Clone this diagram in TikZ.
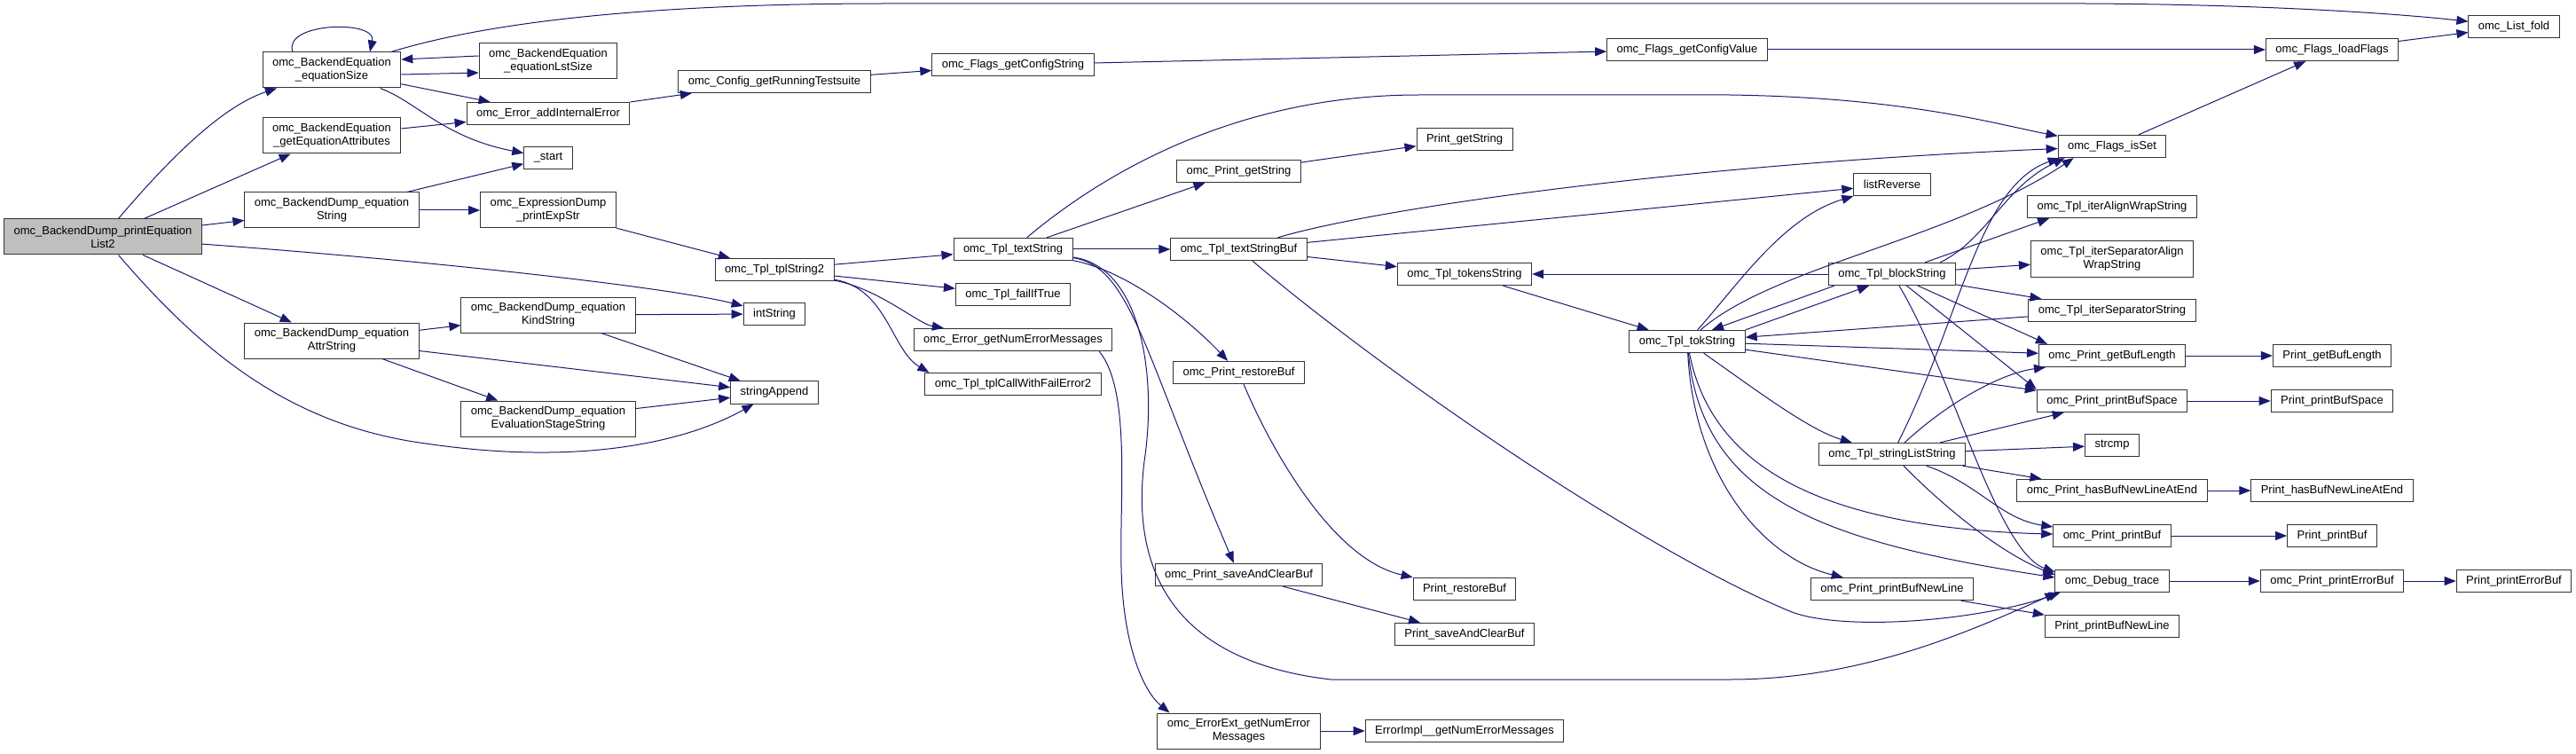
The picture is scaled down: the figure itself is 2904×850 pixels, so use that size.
\documentclass[tikz,border=0pt]{standalone}
\usepackage{fontspec}
\setmainfont{Liberation Sans}
\usepackage{tikz}
\usetikzlibrary{calc,arrows.meta}
\definecolor{cgedge}{HTML}{191970}
\definecolor{cgroot}{HTML}{BFBFBF}
\definecolor{cgline}{HTML}{333333}

\begin{document}
\begin{tikzpicture}[x=1pt, y=-1pt, >={Triangle[length=13pt,width=10pt]},
  font=\fontsize{13}{15}\selectfont,
  fn/.style={draw=cgline, line width=1pt, fill=white, inner xsep=11pt, inner ysep=0pt,
             minimum height=25.3pt, align=center},
  fn2/.style={fn, minimum height=40pt},
  call/.style={cgedge, line width=1pt, ->}]
  \useasboundingbox (0,0) rectangle (2904,850);

  % the documented function
  \node[fn2, fill=cgroot] (PEL) at (116,267) {omc\_BackendDump\_printEquation\\List2};

  % direct callees
  \node[fn2] (ES)  at (374,79)  {omc\_BackendEquation\\\_equationSize};
  \node[fn2] (GEA) at (374,153) {omc\_BackendEquation\\\_getEquationAttributes};
  \node[fn2] (EQS) at (374,237) {omc\_BackendDump\_equation\\String};
  \node[fn2] (EAS) at (374,384) {omc\_BackendDump\_equation\\AttrString};

  \node[fn2] (ELS) at (618,69)  {omc\_BackendEquation\\\_equationLstSize};
  \node[fn]  (AIE) at (618,128) {omc\_Error\_addInternalError};
  \node[fn]  (STA) at (618,178) {\_start};
  \node[fn2] (PES) at (618,237) {omc\_ExpressionDump\\\_printExpStr};
  \node[fn2] (EKS) at (618,355) {omc\_BackendDump\_equation\\KindString};
  \node[fn2] (EES) at (618,472) {omc\_BackendDump\_equation\\EvaluationStageString};

  \node[fn] (CRT) at (873,92)    {omc\_Config\_getRunningTestsuite};
  \node[fn] (TS2) at (873,304)   {omc\_Tpl\_tplString2};
  \node[fn] (INT) at (873,354)   {intString};
  \node[fn] (SAP) at (873,442.5) {stringAppend};

  \node[fn] (FGS) at (1142,73)  {omc\_Flags\_getConfigString};
  \node[fn] (TXS) at (1142,281) {omc\_Tpl\_textString};
  \node[fn] (FIT) at (1142,332) {omc\_Tpl\_failIfTrue};
  \node[fn] (GNE) at (1142,383) {omc\_Error\_getNumErrorMessages};
  \node[fn] (CWF) at (1142,433) {omc\_Tpl\_tplCallWithFailError2};

  \node[fn]  (OGS) at (1396.5,193) {omc\_Print\_getString};
  \node[fn]  (TSB) at (1396.5,281) {omc\_Tpl\_textStringBuf};
  \node[fn]  (ORB) at (1396.5,420) {omc\_Print\_restoreBuf};
  \node[fn]  (OSC) at (1396.5,648) {omc\_Print\_saveAndClearBuf};
  \node[fn2] (EXT) at (1396.5,824) {omc\_ErrorExt\_getNumError\\Messages};

  \node[fn] (PGS) at (1651,157) {Print\_getString};
  \node[fn] (TKS) at (1651,309) {omc\_Tpl\_tokensString};
  \node[fn] (PRB) at (1651,664) {Print\_restoreBuf};
  \node[fn] (PSC) at (1651,715) {Print\_saveAndClearBuf};
  \node[fn] (EIM) at (1651,824) {ErrorImpl\_\_getNumErrorMessages};

  \node[fn] (FCV) at (1902,56)  {omc\_Flags\_getConfigValue};
  \node[fn] (TOK) at (1902,385) {omc\_Tpl\_tokString};

  \node[fn] (LRV) at (2133,208) {listReverse};
  \node[fn] (BLK) at (2133,309) {omc\_Tpl\_blockString};
  \node[fn] (SLS) at (2133,512) {omc\_Tpl\_stringListString};
  \node[fn] (OPN) at (2133,664) {omc\_Print\_printBufNewLine};

  \node[fn]  (ISET) at (2381,165) {omc\_Flags\_isSet};
  \node[fn]  (IAW)  at (2381,233) {omc\_Tpl\_iterAlignWrapString};
  \node[fn2] (ISA)  at (2381,292) {omc\_Tpl\_iterSeparatorAlign\\WrapString};
  \node[fn]  (ISP)  at (2381,350) {omc\_Tpl\_iterSeparatorString};
  \node[fn]  (OGL)  at (2381,401) {omc\_Print\_getBufLength};
  \node[fn]  (OBS)  at (2381,452) {omc\_Print\_printBufSpace};
  \node[fn]  (SCM)  at (2381,502) {strcmp};
  \node[fn]  (OHB)  at (2381,553) {omc\_Print\_hasBufNewLineAtEnd};
  \node[fn]  (OPB)  at (2381,604) {omc\_Print\_printBuf};
  \node[fn]  (DBG)  at (2381,655) {omc\_Debug\_trace};
  \node[fn]  (PBN)  at (2381,706) {Print\_printBufNewLine};

  \node[fn] (LDF) at (2629,56)  {omc\_Flags\_loadFlags};
  \node[fn] (PGL) at (2629,401) {Print\_getBufLength};
  \node[fn] (PBS) at (2629,452) {Print\_printBufSpace};
  \node[fn] (PHB) at (2629,553) {Print\_hasBufNewLineAtEnd};
  \node[fn] (PPB) at (2629,604) {Print\_printBuf};
  \node[fn] (OEB) at (2629,655) {omc\_Print\_printErrorBuf};

  \node[fn] (LFD) at (2834,30)  {omc\_List\_fold};
  \node[fn] (PEB) at (2834,655) {Print\_printErrorBuf};

  % calls of the documented function
  \draw[call] (PEL) .. controls (190,180) and (250,120) .. (ES);
  \draw[call] (PEL) -- (GEA);
  \draw[call] (PEL) -- (EQS);
  \draw[call] (PEL) .. controls (500,295) and (760,325) .. (INT);
  \draw[call] (PEL) -- (EAS);
  \draw[call] (PEL) .. controls (230,400) and (330,480) .. (480,500)
                    .. controls (650,525) and (770,500) .. (SAP);

  % equationSize and its neighbours
  \draw[call] ($(ES.north)+(-44,0)$) .. controls (318,25) and (425,22) .. ($(ES.north)+(43,0)$);
  \draw[call] (ES) .. controls (560,22) and (750,4) .. (1000,4) -- (2350,4)
                   .. controls (2550,5) and (2700,15) .. (LFD);
  \draw[call] ($(ELS.west)+(0,-6)$) -- ($(ES.east)+(0,-12)$);
  \draw[call] ($(ES.east)+(0,5)$) -- ($(ELS.west)+(0,13)$);
  \draw[call] (ES) -- (AIE);
  \draw[call] (ES) .. controls (470,115) and (500,155) .. (STA);
  \draw[call] (GEA) -- (AIE);
  \draw[call] (EQS) -- (STA);
  \draw[call] (EQS) -- (PES);
  \draw[call] (EAS) -- (EKS);
  \draw[call] (EAS) -- (SAP);
  \draw[call] (EAS) -- (EES);
  \draw[call] (EKS) -- (INT);
  \draw[call] (EKS) -- (SAP);
  \draw[call] (EES) -- (SAP);

  % flags chain
  \draw[call] (AIE) -- (CRT);
  \draw[call] (CRT) -- (FGS);
  \draw[call] (FGS) -- (FCV);
  \draw[call] (FCV) -- (LDF);
  \draw[call] (LDF) -- (LFD);
  \draw[call] (ISET) -- (LDF);

  % template code
  \draw[call] (PES) -- (TS2);
  \draw[call] (TS2) -- (TXS);
  \draw[call] (TS2) -- (FIT);
  \draw[call] (TS2) .. controls (990,325) and (1035,365) .. (GNE);
  \draw[call] (TS2) .. controls (1000,325) and (1005,395) .. ($(CWF.north west)+(5,0)$);

  \draw[call] (TXS) .. controls (1250,190) and (1400,107) .. (1600,107) -- (1950,107)
                    .. controls (2150,110) and (2250,140) .. (ISET);
  \draw[call] (TXS) -- (OGS);
  \draw[call] (TXS) -- (TSB);
  \draw[call] (TXS) .. controls (1270,305) and (1340,360) .. (ORB);
  \draw[call] (TXS) .. controls (1275,300) and (1290,400) .. (OSC);
  \draw[call] (TXS) .. controls (1285,300) and (1305,420) .. (1290,520)
                    .. controls (1275,640) and (1320,745) .. (1500,766) -- (1950,766)
                    .. controls (2100,766) and (2220,712) .. ($(DBG.south west)+(2,0)$);
  \draw[call] ($(GNE.south east)+(-15,0)$) .. controls (1275,440) and (1262,560) .. (1264,640)
                    .. controls (1266,730) and (1290,780) .. ($(EXT.north west)+(14,0)$);

  \draw[call] (TSB) .. controls (1550,235) and (1900,185) .. (ISET);
  \draw[call] (TSB) -- (LRV);
  \draw[call] (TSB) -- (TKS);
  \draw[call] (TSB) .. controls (1560,420) and (1850,620) .. (2020,690)
                    .. controls (2080,712) and (2230,700) .. ($(DBG.south west)+(6,0)$);

  \draw[call] (OGS) -- (PGS);
  \draw[call] (ORB) .. controls (1430,500) and (1500,630) .. (PRB);
  \draw[call] (OSC) -- (PSC);
  \draw[call] (EXT) -- (EIM);
  \draw[call] (TKS) -- (TOK);
  \draw[call] (BLK) -- (TKS);

  % tokString
  \draw[call] (TOK.north east) -- ($(BLK.south)+(-26,0)$);
  \draw[call] ($(BLK.south west)+(7,0)$) -- ($(TOK.north)+(28,0)$);
  \draw[call] (ISP) -- (TOK);
  \draw[call] (TOK) .. controls (1960,320) and (2010,245) .. (LRV);
  \draw[call] (TOK) .. controls (2000,300) and (2200,270) .. ($(ISET.south west)+(18,0)$);
  \draw[call] (TOK) -- (OGL);
  \draw[call] (TOK) -- (OBS);
  \draw[call] (TOK) .. controls (1980,440) and (2040,485) .. (SLS);
  \draw[call] (TOK) .. controls (1930,530) and (2060,595) .. (OPB);
  \draw[call] (TOK) .. controls (1920,560) and (2050,610) .. ($(DBG.west)+(0,-4)$);
  \draw[call] (TOK) .. controls (1910,540) and (1990,630) .. (OPN);

  % blockString
  \draw[call] ($(BLK.north east)+(-18,0)$) .. controls (2240,270) and (2260,210) .. ($(ISET.south west)+(8,0)$);
  \draw[call] (BLK) -- ($(IAW.south west)+(25,0)$);
  \draw[call] (BLK) -- (ISA);
  \draw[call] (BLK) -- (ISP);
  \draw[call] (BLK) -- ($(OGL.north west)+(10,0)$);
  \draw[call] (BLK) -- (OBS.north west);
  \draw[call] (BLK) .. controls (2200,420) and (2250,620) .. ($(DBG.west)+(0,-10)$);

  % stringListString
  \draw[call] (SLS) .. controls (2210,360) and (2230,210) .. ($(ISET.south west)+(2,0)$);
  \draw[call] (SLS) .. controls (2200,450) and (2260,420) .. ($(OGL.south west)+(8,0)$);
  \draw[call] (SLS) -- (OBS);
  \draw[call] (SLS) -- (SCM);
  \draw[call] (SLS) -- (OHB);
  \draw[call] (SLS) .. controls (2230,545) and (2255,585) .. (OPB);
  \draw[call] (SLS) .. controls (2200,580) and (2260,625) .. ($(DBG.west)+(0,-7)$);

  % print buffer wrappers
  \draw[call] (OPN) -- (PBN);
  \draw[call] (OGL) -- (PGL);
  \draw[call] (OBS) -- (PBS);
  \draw[call] (OHB) -- (PHB);
  \draw[call] (OPB) -- (PPB);
  \draw[call] (DBG) -- (OEB);
  \draw[call] (OEB) -- (PEB);
\end{tikzpicture}
\end{document}
